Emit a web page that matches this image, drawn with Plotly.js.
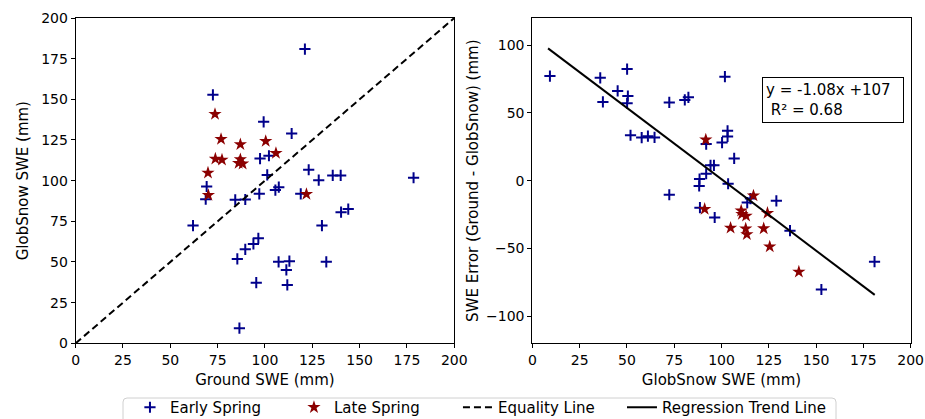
<!DOCTYPE html>
<html>
<head>
<meta charset="utf-8">
<script src="https://cdn.plot.ly/plotly-3.0.1.min.js"></script>
<style>html,body{margin:0;padding:0;background:#fff;}#chart{width:925px;height:419px;}</style>
</head>
<body>
<div id="chart"></div>
<script>
// Early Spring: ground SWE and GlobSnow SWE (mm)
var groundEarly = [121.1, 72.5, 99.3, 114.1, 97.4, 102.1, 101.2, 123.1, 128.4, 135.8, 140.0, 178.5, 69.2, 68.7, 84.3, 89.6, 97.0, 105.5, 107.3, 118.9, 62.0, 130.1, 140.2, 144.0, 96.5, 93.9, 89.6, 85.4, 107.2, 112.9, 132.4, 111.3, 111.8, 95.4, 86.5];
var globEarly   = [180.9, 152.8, 136.2, 129.0, 113.6, 115.3, 103.5, 106.7, 100.3, 103.2, 103.2, 101.8, 96.4, 88.6, 88.2, 88.4, 91.9, 94.2, 96.0, 91.9, 72.4, 72.4, 80.6, 82.5, 64.6, 61.1, 57.8, 51.9, 50.1, 50.5, 50.1, 45.1, 35.9, 37.3, 9.3];
// Late Spring
var groundLate = [73.6, 76.8, 73.8, 77.3, 87.0, 87.0, 88.2, 86.1, 100.4, 105.8, 69.9, 70.1, 121.9];
var globLate   = [140.9, 125.5, 113.4, 112.8, 122.3, 113.0, 110.4, 110.8, 124.3, 116.9, 104.8, 91.1, 91.7];
// Equality line and regression trend line
var equalX = [0, 200];
var equalY = [0, 200];
var trendX = [8.3, 181.0];
var trendY = [97.6, -84.3];
var fitText = 'y = -1.08x +107<br> R\u00b2 = 0.68';
var ticks25 = [0, 25, 50, 75, 100, 125, 150, 175, 200];
var ticksErr = [-100, -50, 0, 50, 100];

function diff(a, b) { return a.map(function (v, i) { return v - b[i]; }); }
var errEarly = diff(groundEarly, globEarly);
var errLate = diff(groundLate, globLate);

var navy = '#00008b', dred = '#8b0000';
var earlyMarker = {symbol: 'cross-thin', size: 8, color: navy, line: {color: navy, width: 2}};
var lateMarker = {symbol: 'star', size: 10, color: dred, line: {width: 0}};

var traces = [
  {x: groundEarly, y: globEarly, mode: 'markers', type: 'scatter', name: 'Early Spring', marker: earlyMarker, xaxis: 'x', yaxis: 'y'},
  {x: groundLate, y: globLate, mode: 'markers', type: 'scatter', name: 'Late Spring', marker: lateMarker, xaxis: 'x', yaxis: 'y'},
  {x: equalX, y: equalY, mode: 'lines', type: 'scatter', name: 'Equality Line', line: {color: '#000', width: 2, dash: '7px,4px'}, xaxis: 'x', yaxis: 'y'},
  {x: globEarly, y: errEarly, mode: 'markers', type: 'scatter', name: 'Early Spring', marker: earlyMarker, xaxis: 'x2', yaxis: 'y2', showlegend: false},
  {x: globLate, y: errLate, mode: 'markers', type: 'scatter', name: 'Late Spring', marker: lateMarker, xaxis: 'x2', yaxis: 'y2', showlegend: false},
  {x: trendX, y: trendY, mode: 'lines', type: 'scatter', name: 'Regression Trend Line', line: {color: '#000', width: 2}, xaxis: 'x2', yaxis: 'y2', legend: 'legend2'}
];

function ax(extra) {
  var base = {
    showline: true, mirror: true, linecolor: '#000', linewidth: 1,
    ticks: 'outside', ticklen: 4, tickwidth: 1, tickcolor: '#000',
    showgrid: false, zeroline: false, automargin: false,
    tickfont: {family: 'DejaVu Sans', size: 14, color: '#000'}
  };
  for (var k in extra) base[k] = extra[k];
  return base;
}
var ttlFont = {family: 'DejaVu Sans', size: 15, color: '#000'};
var legFont = {family: 'DejaVu Sans', size: 15, color: '#000'};

// legend frame (rounded rectangle, paper coordinates)
var fx0 = 123 / 925, fx1 = 836 / 925, fyT = 21 / 419, fyB = -0.03, rx = 4 / 925, ry = 4 / 419;
var framePath = 'M ' + (fx0 + rx) + ' ' + fyT + ' L ' + (fx1 - rx) + ' ' + fyT +
  ' Q ' + fx1 + ' ' + fyT + ' ' + fx1 + ' ' + (fyT - ry) + ' L ' + fx1 + ' ' + fyB +
  ' L ' + fx0 + ' ' + fyB + ' L ' + fx0 + ' ' + (fyT - ry) +
  ' Q ' + fx0 + ' ' + fyT + ' ' + (fx0 + rx) + ' ' + fyT + ' Z';

var layout = {
  width: 925, height: 419,
  margin: {l: 0, r: 0, t: 0, b: 0, autoexpand: false},
  paper_bgcolor: '#fff', plot_bgcolor: '#fff',
  font: {family: 'DejaVu Sans', size: 14, color: '#000'},
  showlegend: true,
  legend: {orientation: 'h', xref: 'paper', yref: 'paper',
           x: 0.1405, xanchor: 'left', y: 0.0668, yanchor: 'top',
           entrywidth: 119, entrywidthmode: 'pixels',
           borderwidth: 0, bgcolor: 'rgba(0,0,0,0)',
           font: legFont, traceorder: 'normal'},
  legend2: {orientation: 'h', xref: 'paper', yref: 'paper',
           x: 0.6724, xanchor: 'left', y: 0.0668, yanchor: 'top',
           borderwidth: 0, bgcolor: 'rgba(0,0,0,0)', font: legFont},
  shapes: [{type: 'path', xref: 'paper', yref: 'paper', path: framePath,
            line: {color: '#d0d0d0', width: 1}, fillcolor: 'rgba(0,0,0,0)', layer: 'above'}],
  xaxis: ax({domain: [0.0818, 0.4911], range: [0, 200], tickvals: ticks25, anchor: 'y',
             title: {text: 'Ground SWE (mm)', font: ttlFont, standoff: 7}}),
  yaxis: ax({domain: [0.1807, 0.957], range: [0, 200], tickvals: ticks25, anchor: 'x',
             title: {text: 'GlobSnow SWE (mm)', font: ttlFont, standoff: 8}}),
  xaxis2: ax({domain: [0.5755, 0.9845], range: [0, 200], tickvals: ticks25, anchor: 'y2',
              title: {text: 'GlobSnow SWE (mm)', font: ttlFont, standoff: 7}}),
  yaxis2: ax({domain: [0.1807, 0.957], range: [-120, 120], tickvals: ticksErr, anchor: 'x2',
              title: {text: 'SWE Error (Ground - GlobSnow) (mm)', font: ttlFont, standoff: 3}}),
  annotations: [{
    xref: 'x2', yref: 'y2', x: 158.8, y: 59.3, xanchor: 'center', yanchor: 'middle',
    text: fitText, showarrow: false, align: 'left', width: 134, height: 38,
    font: {family: 'DejaVu Sans', size: 15, color: '#000'},
    bordercolor: '#000', borderwidth: 1, borderpad: 3, bgcolor: '#fff'
  }]
};

Plotly.newPlot('chart', traces, layout, {displayModeBar: false, staticPlot: true});
</script>
</body>
</html>
